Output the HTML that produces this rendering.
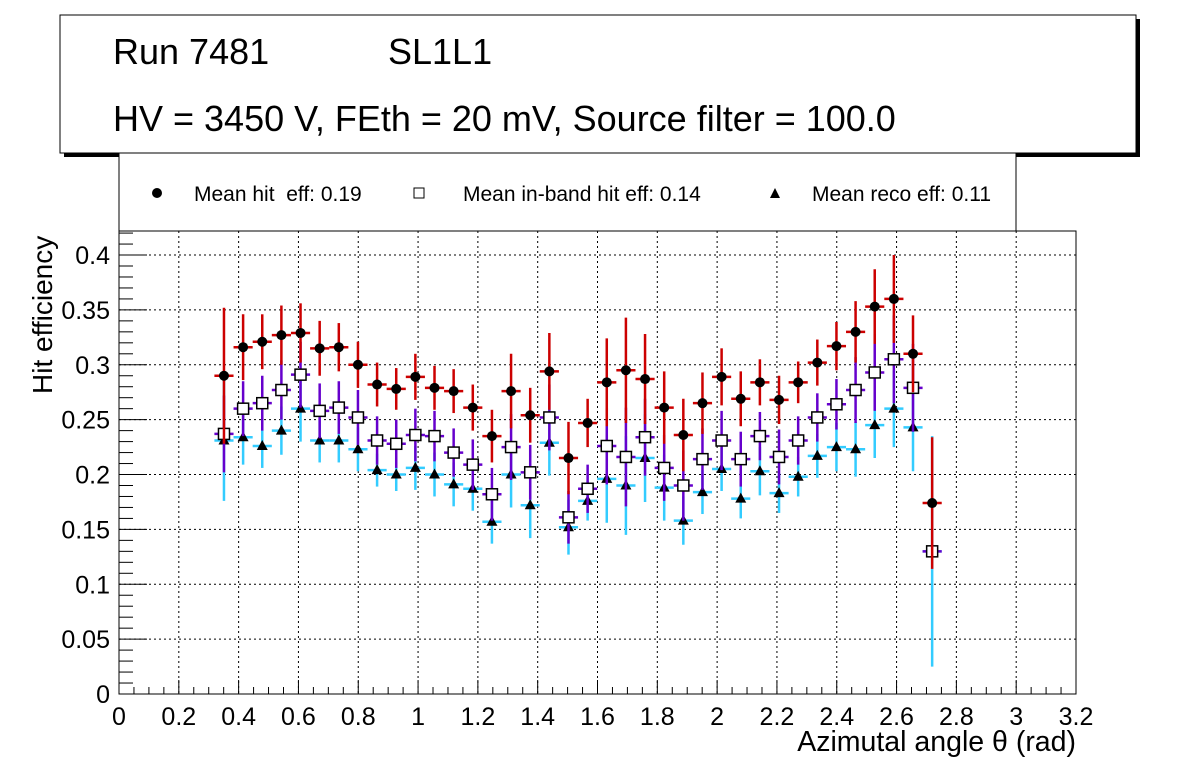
<!DOCTYPE html>
<html><head><meta charset="utf-8"><style>
html,body{margin:0;padding:0;background:#fff;}
svg{display:block;font-family:"Liberation Sans",sans-serif;}
</style></head><body>
<svg id="c" width="1196" height="772" viewBox="0 0 1196 772" xmlns="http://www.w3.org/2000/svg">
<rect x="0" y="0" width="1196" height="772" fill="#fff"/>
<rect x="64" y="19" width="1076" height="138" fill="#000"/>
<rect x="60" y="15" width="1076" height="138" fill="#fff" stroke="#000" stroke-width="1"/>
<text x="113" y="64" font-size="36">Run 7481</text>
<text x="388" y="64" font-size="36">SL1L1</text>
<text x="113" y="131" font-size="36">HV = 3450 V, FEth = 20 mV, Source filter = 100.0</text>
<rect x="119" y="153" width="897" height="78" fill="#fff" stroke="#000" stroke-width="1"/>
<g><circle cx="157" cy="193" r="5" fill="#000"/><text x="194" y="201" font-size="21" xml:space="preserve">Mean hit  eff: 0.19</text></g>
<g><rect x="414" y="188" width="10" height="10" fill="#fff" stroke="#000"/><text x="463" y="201" font-size="21">Mean in-band hit eff: 0.14</text></g>
<g><polygon points="775,188 780,198 770,198" fill="#000"/><text x="812" y="201" font-size="21">Mean reco eff: 0.11</text></g>
<g id="grid"></g>
<rect x="119" y="231" width="957" height="463" fill="none" stroke="#000" stroke-width="1"/>
<g id="axes"></g>
<g id="marks"></g>
<text x="1076" y="751" font-size="28.5" text-anchor="end">Azimutal angle θ (rad)</text>
<text transform="translate(52,394) rotate(-90)" font-size="28">Hit efficiency</text>
</svg>
<script>
const binCenters=[0.351,0.415,0.479,0.543,0.607,0.671,0.735,0.799,0.863,0.927,0.991,1.055,1.119,1.183,1.247,1.311,1.375,1.439,1.503,1.567,1.631,1.695,1.759,1.823,1.887,1.951,2.015,2.079,2.143,2.207,2.271,2.335,2.399,2.463,2.527,2.591,2.655,2.719];
const hitEff=[0.290,0.316,0.321,0.327,0.329,0.315,0.316,0.300,0.282,0.278,0.289,0.279,0.276,0.261,0.235,0.276,0.254,0.294,0.215,0.247,0.284,0.295,0.287,0.261,0.236,0.265,0.289,0.269,0.284,0.268,0.284,0.302,0.317,0.330,0.353,0.360,0.310,0.174];
const hitErr=[0.062,0.030,0.025,0.027,0.027,0.025,0.022,0.021,0.020,0.019,0.021,0.020,0.020,0.021,0.024,0.034,0.025,0.035,0.033,0.022,0.040,0.048,0.041,0.033,0.033,0.028,0.026,0.025,0.021,0.022,0.019,0.021,0.022,0.028,0.034,0.040,0.035,0.060];
const bandEff=[0.237,0.260,0.265,0.277,0.291,0.258,0.261,0.252,0.231,0.228,0.236,0.235,0.220,0.209,0.182,0.225,0.202,0.252,0.161,0.187,0.226,0.216,0.234,0.206,0.190,0.214,0.231,0.214,0.235,0.216,0.231,0.252,0.264,0.277,0.293,0.305,0.279,0.130];
const bandErr=[0.035,0.025,0.025,0.027,0.030,0.025,0.024,0.025,0.022,0.022,0.024,0.023,0.022,0.023,0.024,0.030,0.025,0.030,0.024,0.022,0.035,0.045,0.035,0.030,0.032,0.028,0.027,0.025,0.022,0.025,0.022,0.022,0.023,0.030,0.035,0.040,0.040,0.005];
const recoEff=[0.231,0.234,0.226,0.240,0.260,0.231,0.231,0.223,0.204,0.200,0.206,0.200,0.191,0.187,0.157,0.200,0.172,0.229,0.152,0.176,0.196,0.190,0.215,0.188,0.158,0.184,0.205,0.178,0.203,0.183,0.198,0.217,0.225,0.223,0.245,0.260,0.243,0.130];
const recoErr=[0.055,0.025,0.020,0.022,0.030,0.020,0.020,0.020,0.015,0.015,0.020,0.020,0.020,0.020,0.020,0.030,0.030,0.030,0.025,0.018,0.040,0.045,0.040,0.030,0.022,0.020,0.020,0.018,0.022,0.018,0.018,0.020,0.022,0.025,0.030,0.035,0.040,0.105];
const xTicks=[0,0.2,0.4,0.6,0.8,1,1.2,1.4,1.6,1.8,2,2.2,2.4,2.6,2.8,3,3.2];
const yTicks=[0,0.05,0.1,0.15,0.2,0.25,0.3,0.35,0.4];
const halfBin=0.032;
const X0=119,X1=1076,Y0=694,Y1=231,XMAX=3.2,YMAX=0.4219;
const sx=v=>X0+(X1-X0)*v/XMAX;
const sy=v=>Y0-(Y0-Y1)*v/YMAX;
const NS="http://www.w3.org/2000/svg";
function mk(tag,attrs,parent){const e=document.createElementNS(NS,tag);for(const k in attrs)e.setAttribute(k,attrs[k]);parent.appendChild(e);return e;}
const grid=document.getElementById('grid'),axes=document.getElementById('axes'),marks=document.getElementById('marks');
xTicks.forEach((t,i)=>{const x=sx(t);
 if(i>0&&i<xTicks.length-1){const g=mk('line',{x1:x,y1:Y1,x2:x,y2:Y0,stroke:'#000','stroke-dasharray':'2,3','stroke-width':1},grid);
 
 }
 const tk=mk('line',{x1:x,y1:Y0,x2:x,y2:Y0-14,stroke:'#000'},axes);
 
 
 const lb=mk('text',{x:x,y:725,'font-size':25,'text-anchor':'middle'},axes);lb.textContent=String(t);
 
 
 if(i<xTicks.length-1)for(let k=1;k<4;k++){const m=mk('line',{x1:sx(t+0.05*k),y1:Y0,x2:sx(t+0.05*k),y2:Y0-7,stroke:'#000'},axes);
 
 }
});
yTicks.forEach((t,i)=>{const y=sy(t);
 if(i>0){const g=mk('line',{x1:X0,y1:y,x2:X1,y2:y,stroke:'#000','stroke-dasharray':'2,3','stroke-width':1},grid);
 
 }
 const tk=mk('line',{x1:X0,y1:y,x2:X0+28,y2:y,stroke:'#000'},axes);
 
 
 const lb=mk('text',{x:110,y:y+9,'font-size':25,'text-anchor':'end'},axes);lb.textContent=String(t);
 
 
 for(let k=1;k<5;k++){const v=t+0.01*k;if(v<YMAX){const m=mk('line',{x1:X0,y1:sy(v),x2:X0+14,y2:sy(v),stroke:'#000'},axes);
 
 }}
});
function series(vals,errs,color,name){
 const g=mk('g',{},marks);
 
 
 binCenters.forEach((c,i)=>{const x=sx(c),y=sy(vals[i]);
  const v=mk('line',{x1:x,y1:sy(vals[i]+errs[i]),x2:x,y2:sy(Math.max(0,vals[i]-errs[i])),stroke:color,'stroke-width':2.5},g);
  
  
  const h=mk('line',{x1:sx(c-halfBin),y1:y,x2:sx(c+halfBin),y2:y,stroke:color,'stroke-width':2.5},g);
  
  });
 return g;}
const gr=series(recoEff,recoErr,'#33ccff','reco');
const gb=series(bandEff,bandErr,'#6600cc','inband');
const gh=series(hitEff,hitErr,'#cc0000','hit');
binCenters.forEach((c,i)=>{const x=sx(c),y=sy(recoEff[i]);
 const p=mk('polygon',{points:`${x},${y-6} ${x+5.5},${y+4} ${x-5.5},${y+4}`,fill:'#000'},gr);
 
 });
binCenters.forEach((c,i)=>{const x=sx(c),y=sy(bandEff[i]);
 const p=mk('rect',{x:x-5.5,y:y-5.5,width:11,height:11,fill:'#fff',stroke:'#000','stroke-width':1.5},gb);
 
 });
binCenters.forEach((c,i)=>{const x=sx(c),y=sy(hitEff[i]);
 const p=mk('circle',{cx:x,cy:y,r:5,fill:'#000'},gh);
 
 });
</script>
</body></html>
